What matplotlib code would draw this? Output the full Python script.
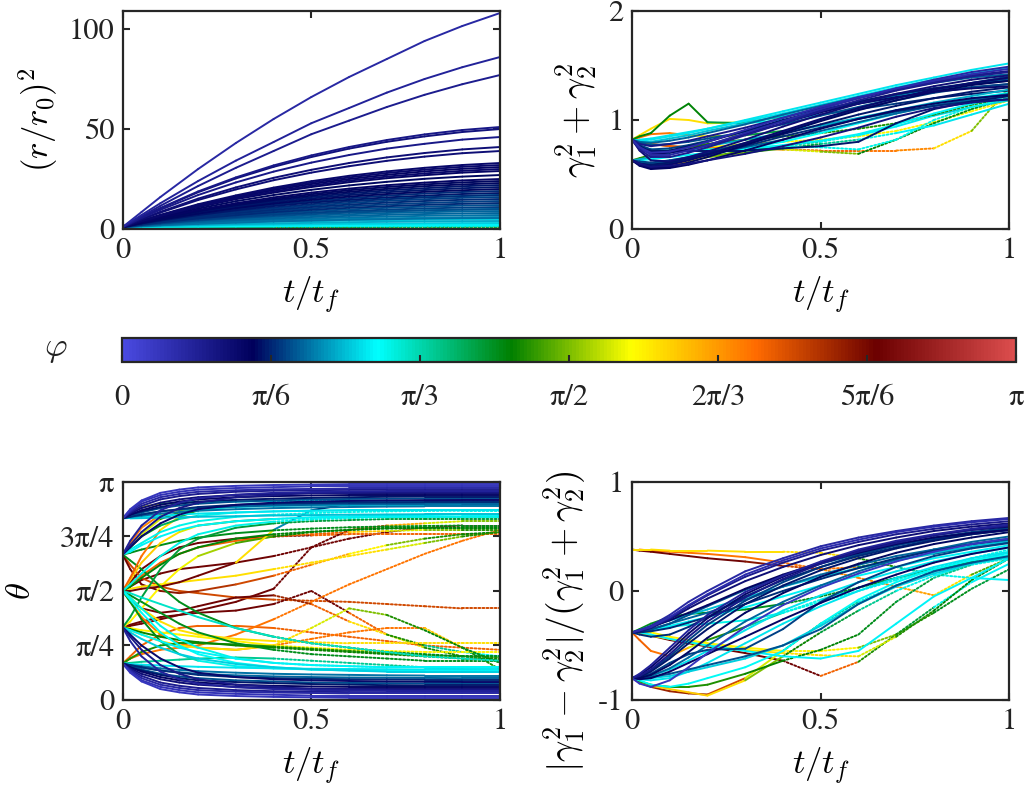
import numpy as np
import matplotlib
matplotlib.use("Agg")
import matplotlib.pyplot as plt
from matplotlib.colors import LinearSegmentedColormap, Normalize
from matplotlib.collections import LineCollection
from matplotlib.cm import ScalarMappable

plt.rcParams['font.family'] = ['STIXGeneral', 'DejaVu Serif']
plt.rcParams['mathtext.fontset'] = 'cm'

# ---------------- data (phi and theta in units of pi) ----------------
t_r = [0, 0.05, 0.1, 0.2, 0.3, 0.4, 0.5, 0.6, 0.7, 0.8, 0.9, 1.0]
t_s = [0, 0.02, 0.05, 0.1, 0.15, 0.2, 0.3, 0.4, 0.5, 0.6, 0.7, 0.8, 0.9, 1.0]

# (r/r0)^2
r2_vals = [
    [1, 8.5, 16, 30, 43, 55, 66, 76, 85, 94, 101.5, 108],
    [1, 7, 12.9, 24, 34.2, 43.5, 52.9, 60.5, 68.2, 75, 80.9, 86],
    [1, 6.3, 11.6, 21.5, 30.6, 39, 47.4, 54.2, 61, 67.1, 72.4, 77],
    [1, 6, 10.5, 18.8, 25.8, 31.8, 36.8, 41, 44.5, 47.3, 49.5, 51],
    [1, 5.9, 10.3, 18.4, 25.3, 31.1, 36, 40.2, 43.6, 46.3, 48.5, 50],
    [1, 5.5, 9.6, 17, 23.3, 28.7, 33.2, 37, 40.2, 42.6, 44.7, 46],
    [1, 5, 8.6, 15.2, 20.8, 25.6, 29.6, 33, 35.8, 38, 39.8, 41],
    [1, 4.8, 8.2, 14.5, 19.8, 24.4, 28.2, 31.4, 34.1, 36.2, 37.9, 39],
    [1, 4.2, 7.1, 12.4, 16.8, 20.7, 23.9, 26.6, 28.8, 30.6, 32, 33],
    [1, 4.1, 6.9, 12, 16.3, 20.1, 23.2, 25.8, 28, 29.7, 31.1, 32],
    [1, 4, 6.7, 11.7, 15.9, 19.5, 22.5, 25, 27.1, 28.8, 30.1, 31],
    [1, 3.9, 6.5, 11.3, 15.4, 18.8, 21.7, 24.2, 26.2, 27.8, 29.1, 30],
    [1, 3.8, 6.3, 10.9, 14.9, 18.2, 21, 23.4, 25.4, 26.9, 28.2, 29],
    [1, 3.6, 5.9, 10.2, 13.9, 17, 19.6, 21.8, 23.6, 25.1, 26.2, 27],
    [1, 3.4, 5.6, 9.5, 12.9, 15.8, 18.2, 20.2, 21.9, 23.2, 24.3, 25],
    [1, 3.3, 5.4, 9.2, 12.4, 15.1, 17.4, 19.4, 21, 22.3, 23.3, 24],
    [1, 3.2, 5.2, 8.8, 11.9, 14.5, 16.7, 18.6, 20.1, 21.4, 22.3, 23],
    [1, 3.1, 5, 8.5, 11.4, 13.9, 16, 17.8, 19.3, 20.4, 21.4, 22],
    [1, 3, 4.8, 8.1, 10.9, 13.3, 15.3, 17, 18.4, 19.5, 20.4, 21],
    [1, 2.9, 4.6, 7.7, 10.4, 12.7, 14.6, 16.2, 17.5, 18.6, 19.4, 20],
    [1, 2.8, 4.4, 7.4, 9.9, 12.1, 13.9, 15.4, 16.7, 17.7, 18.5, 19],
    [1, 2.7, 4.2, 7, 9.4, 11.5, 13.2, 14.6, 15.8, 16.7, 17.5, 18],
    [1, 2.6, 4, 6.7, 8.9, 10.8, 12.4, 13.8, 14.9, 15.8, 16.5, 17],
    [1, 2.5, 3.9, 6.3, 8.4, 10.2, 11.7, 13, 14.1, 14.9, 15.6, 16],
    [1, 2.4, 3.7, 6, 7.9, 9.6, 11, 12.2, 13.2, 14, 14.6, 15],
    [1, 2.3, 3.5, 5.6, 7.4, 9, 10.3, 11.4, 12.3, 13, 13.6, 14],
    [1, 2.2, 3.3, 5.3, 6.9, 8.4, 9.6, 10.6, 11.4, 12.1, 12.6, 13],
    [1, 2.1, 3.1, 4.9, 6.4, 7.8, 8.9, 9.8, 10.6, 11.2, 11.7, 12],
    [1, 2, 2.9, 4.6, 6, 7.2, 8.2, 9, 9.7, 10.3, 10.7, 11],
    [1, 1.9, 2.7, 4.2, 5.5, 6.5, 7.4, 8.2, 8.8, 9.3, 9.7, 10],
    [1, 1.8, 2.5, 3.8, 5, 5.9, 6.7, 7.4, 8, 8.4, 8.8, 9],
    [1, 1.7, 2.3, 3.5, 4.5, 5.3, 6, 6.6, 7.1, 7.5, 7.8, 8],
    [1, 1.6, 2.1, 3.1, 4, 4.7, 5.3, 5.8, 6.2, 6.6, 6.8, 7],
    [1, 1.5, 1.95, 2.8, 3.5, 4.1, 4.6, 5, 5.35, 5.6, 5.85, 6],
    [1, 1.45, 1.9, 2.6, 3.2, 3.8, 4.2, 4.6, 4.9, 5.2, 5.4, 5.5],
    [1, 1.3, 1.6, 2.1, 2.5, 2.8, 3.1, 3.4, 3.6, 3.8, 3.9, 4],
    [1, 1.2, 1.4, 1.7, 2, 2.2, 2.4, 2.6, 2.7, 2.85, 2.95, 3],
    [1, 1.1, 1.2, 1.35, 1.5, 1.6, 1.7, 1.8, 1.87, 1.92, 1.97, 2],
    [1, 3.5, 6, 9, 11, 12.5, 13.5, 14.5, 15.3, 16, 16.5, 17],
    [1, 2.5, 3.6, 5.2, 6.3, 7.2, 7.9, 8.5, 9.0, 9.4, 9.7, 10],
    [1, 1.5, 2.0, 2.7, 3.2, 3.6, 3.9, 4.2, 4.4, 4.6, 4.7, 4.8],
    [1, 1.2, 1.35, 1.6, 1.8, 1.95, 2.1, 2.2, 2.3, 2.4, 2.45, 2.5],
    [1, 1.08, 1.15, 1.25, 1.33, 1.4, 1.45, 1.5, 1.53, 1.56, 1.58, 1.6],
    [1, 1.05, 1.1, 1.15, 1.2, 1.22, 1.24, 1.26, 1.27, 1.28, 1.29, 1.3],
    [1, 0.95, 0.92, 0.88, 0.85, 0.83, 0.82, 0.81, 0.8, 0.8, 0.8, 0.8],
    [1, 0.9, 0.8, 0.7, 0.6, 0.55, 0.5, 0.47, 0.45, 0.43, 0.42, 0.4],
    [1, 0.8, 0.65, 0.5, 0.4, 0.35, 0.3, 0.28, 0.26, 0.25, 0.24, 0.23],
    [1, 0.7, 0.5, 0.35, 0.27, 0.22, 0.2, 0.18, 0.17, 0.16, 0.15, 0.15],
]
r2_phi = [0.07, 0.08, 0.09, 0.10, 0.11, 0.10, 0.12, 0.12, 0.13, 0.13, 0.14, 0.13,
          0.14, 0.15, 0.14, 0.15, 0.15, 0.16, 0.16, 0.15, 0.17, 0.16, 0.17, 0.18,
          0.17, 0.18, 0.17, 0.19, 0.18, 0.19, 0.20, 0.20, 0.21, 0.22, 0.21, 0.24,
          0.26, 0.28, 0.27, 0.23, 0.26, 0.29, 0.30, 0.33, 0.42, 0.55, 0.68, 0.80]

# gamma1^2 + gamma2^2
gsum_vals = [
    [0.82, 0.75, 0.68, 0.68, 0.72, 0.77, 0.88, 0.99, 1.10, 1.20, 1.29, 1.37, 1.44, 1.49],
    [0.82, 0.72, 0.63, 0.62, 0.66, 0.71, 0.82, 0.94, 1.05, 1.15, 1.24, 1.31, 1.37, 1.41],
    [0.63, 0.59, 0.56, 0.57, 0.61, 0.66, 0.77, 0.88, 0.99, 1.09, 1.18, 1.26, 1.32, 1.36],
    [0.63, 0.60, 0.58, 0.60, 0.64, 0.68, 0.76, 0.85, 0.93, 1.01, 1.08, 1.13, 1.17, 1.19],
    [0.82, 0.78, 0.76, 0.78, 0.81, 0.85, 0.93, 1.02, 1.11, 1.20, 1.28, 1.35, 1.41, 1.45],
    [0.82, 0.76, 0.71, 0.72, 0.76, 0.80, 0.90, 1.00, 1.09, 1.17, 1.24, 1.29, 1.33, 1.36],
    [0.63, 0.58, 0.55, 0.56, 0.59, 0.63, 0.72, 0.82, 0.92, 1.01, 1.09, 1.15, 1.20, 1.23],
    [0.82, 0.80, 0.79, 0.81, 0.84, 0.88, 0.96, 1.05, 1.13, 1.21, 1.28, 1.34, 1.39, 1.42],
    [0.63, 0.62, 0.61, 0.63, 0.66, 0.70, 0.79, 0.89, 1.00, 1.10, 1.18, 1.25, 1.30, 1.33],
    [0.82, 0.74, 0.69, 0.70, 0.73, 0.77, 0.87, 0.97, 1.07, 1.15, 1.21, 1.26, 1.29, 1.31],
    [0.82, 0.79, 0.77, 0.78, 0.80, 0.83, 0.89, 0.96, 1.04, 1.12, 1.20, 1.27, 1.34, 1.40],
    [0.63, 0.60, 0.57, 0.58, 0.60, 0.63, 0.69, 0.76, 0.84, 0.93, 1.03, 1.11, 1.16, 1.19],
    [0.82, 0.74, 0.72, 0.72, 0.72, 0.72, 0.72, 0.74, 0.76, 0.80, 0.97, 1.10, 1.17, 1.22],
    [0.82, 0.73, 0.66, 0.66, 0.70, 0.75, 0.86, 0.97, 1.08, 1.18, 1.27, 1.34, 1.40, 1.44],
    [0.63, 0.59, 0.57, 0.59, 0.63, 0.68, 0.79, 0.90, 1.01, 1.11, 1.20, 1.28, 1.34, 1.39],
    [0.82, 0.77, 0.73, 0.74, 0.77, 0.81, 0.90, 0.99, 1.08, 1.16, 1.23, 1.29, 1.34, 1.38],
    [0.63, 0.60, 0.59, 0.61, 0.65, 0.69, 0.78, 0.87, 0.96, 1.05, 1.13, 1.20, 1.26, 1.30],
    [0.82, 0.75, 0.70, 0.71, 0.75, 0.80, 0.91, 1.02, 1.12, 1.21, 1.29, 1.36, 1.42, 1.47],
    [0.63, 0.61, 0.60, 0.62, 0.65, 0.68, 0.75, 0.82, 0.90, 0.98, 1.06, 1.13, 1.19, 1.24],
    [0.82, 0.82, 0.83, 0.86, 0.89, 0.92, 0.99, 1.06, 1.14, 1.22, 1.30, 1.37, 1.43, 1.48],
    [0.82, 0.81, 0.82, 0.85, 0.88, 0.92, 1.00, 1.08, 1.16, 1.24, 1.32, 1.39, 1.46, 1.52],
    [0.63, 0.63, 0.64, 0.66, 0.68, 0.70, 0.73, 0.77, 0.81, 0.87, 0.96, 1.06, 1.15, 1.22],
    [0.82, 0.76, 0.73, 0.72, 0.72, 0.73, 0.75, 0.76, 0.75, 0.73, 0.82, 1.00, 1.12, 1.20],
    [0.82, 0.80, 0.80, 0.83, 0.86, 0.90, 0.97, 1.04, 1.10, 1.16, 1.22, 1.28, 1.33, 1.37],
    [0.63, 0.64, 0.66, 0.70, 0.73, 0.76, 0.82, 0.88, 0.95, 1.02, 1.09, 1.16, 1.22, 1.28],
    [0.63, 0.60, 0.60, 0.63, 0.66, 0.69, 0.74, 0.80, 0.88, 0.97, 1.06, 1.14, 1.20, 1.25],
    [0.82, 0.85, 0.88, 1.04, 1.15, 0.98, 0.97, 1.00, 1.05, 1.10, 1.15, 1.20, 1.24, 1.27],
    [0.82, 0.86, 0.92, 1.01, 1.00, 0.97, 0.98, 1.03, 1.09, 1.15, 1.21, 1.26, 1.30, 1.33],
    [0.82, 0.84, 0.87, 0.88, 0.86, 0.85, 0.86, 0.90, 0.95, 1.01, 1.07, 1.13, 1.18, 1.22],
    [0.82, 0.80, 0.78, 0.76, 0.75, 0.75, 0.74, 0.73, 0.72, 0.72, 0.72, 0.74, 0.90, 1.30],
    [0.82, 0.80, 0.78, 0.76, 0.75, 0.74, 0.74, 0.73, 0.71, 0.69, 0.82, 0.97, 1.10, 1.20],
    [0.63, 0.64, 0.66, 0.70, 0.73, 0.75, 0.78, 0.80, 0.82, 0.85, 0.90, 0.98, 1.08, 1.18],
    [0.63, 0.65, 0.68, 0.72, 0.75, 0.78, 0.82, 0.85, 0.88, 0.92, 0.97, 1.05, 1.14, 1.20],
    [0.63, 0.60, 0.57, 0.58, 0.62, 0.66, 0.72, 0.76, 0.80, 0.86, 0.94, 1.04, 1.12, 1.18],
    [0.63, 0.60, 0.58, 0.60, 0.63, 0.66, 0.70, 0.74, 0.78, 0.82, 0.88, 0.95, 1.05, 1.15],
]
gsum_phi = [0.07, 0.12, 0.15, 0.17, 0.10, 0.16, 0.14, 0.20, 0.18, 0.13, 0.19, 0.11, 0.16,
            0.09, 0.13, 0.18, 0.16, 0.06, 0.20,
            0.27, 0.27, 0.28, 0.30, 0.25, 0.24, 0.29,
            [0.43, 0.43, 0.43, 0.43, 0.43, 0.40, 0.30, 0.25, 0.20, 0.18, 0.17, 0.16, 0.16, 0.16],
            [0.60, 0.60, 0.60, 0.60, 0.60, 0.55, 0.35, 0.28, 0.22, 0.20, 0.19, 0.18, 0.18, 0.18],
            [0.70, 0.70, 0.70, 0.68, 0.60, 0.50, 0.40, 0.30, 0.26, 0.24, 0.22, 0.21, 0.20, 0.20],
            [0.75, 0.75, 0.75, 0.75, 0.75, 0.75, 0.75, 0.72, 0.72, 0.70, 0.68, 0.60, 0.50, 0.45],
            [0.72, 0.72, 0.72, 0.72, 0.70, 0.68, 0.62, 0.55, 0.50, 0.43, 0.43, 0.42, 0.42, 0.42],
            0.58, 0.45,
            [0.80, 0.78, 0.72, 0.62, 0.55, 0.48, 0.40, 0.33, 0.30, 0.28, 0.27, 0.26, 0.26, 0.26],
            [0.60, 0.60, 0.60, 0.58, 0.55, 0.50, 0.45, 0.40, 0.35, 0.30, 0.28, 0.27, 0.27, 0.27]]

# theta (units of pi)
theta_vals = [
    [0.167, 0.13, 0.09, 0.06, 0.045, 0.035, 0.028, 0.024, 0.02, 0.02, 0.02, 0.02, 0.02, 0.02],
    [0.167, 0.14, 0.11, 0.08, 0.065, 0.055, 0.045, 0.04, 0.038, 0.036, 0.035, 0.035, 0.035, 0.035],
    [0.167, 0.15, 0.13, 0.105, 0.09, 0.08, 0.07, 0.065, 0.062, 0.06, 0.06, 0.06, 0.06, 0.06],
    [0.167, 0.16, 0.15, 0.135, 0.125, 0.115, 0.105, 0.10, 0.097, 0.095, 0.094, 0.093, 0.093, 0.093],
    [0.167, 0.145, 0.12, 0.095, 0.08, 0.07, 0.06, 0.055, 0.052, 0.05, 0.05, 0.05, 0.05, 0.05],
    [0.167, 0.155, 0.14, 0.12, 0.108, 0.10, 0.09, 0.085, 0.08, 0.078, 0.077, 0.076, 0.076, 0.076],
    [0.167, 0.135, 0.10, 0.07, 0.055, 0.045, 0.038, 0.034, 0.032, 0.03, 0.03, 0.03, 0.03, 0.03],
    [0.167, 0.16, 0.155, 0.145, 0.138, 0.132, 0.125, 0.12, 0.117, 0.115, 0.113, 0.112, 0.112, 0.112],
    [0.167, 0.125, 0.085, 0.05, 0.035, 0.025, 0.018, 0.014, 0.012, 0.01, 0.01, 0.01, 0.01, 0.01],
    [0.333, 0.27, 0.20, 0.13, 0.095, 0.075, 0.058, 0.05, 0.046, 0.043, 0.042, 0.04, 0.04, 0.04],
    [0.167, 0.15, 0.135, 0.115, 0.10, 0.09, 0.082, 0.077, 0.073, 0.07, 0.068, 0.067, 0.067, 0.067],
    [0.333, 0.30, 0.25, 0.19, 0.15, 0.125, 0.105, 0.095, 0.09, 0.087, 0.085, 0.084, 0.083, 0.083],
    [0.167, 0.158, 0.148, 0.135, 0.127, 0.12, 0.113, 0.108, 0.105, 0.103, 0.102, 0.101, 0.10, 0.10],
    [0.833, 0.87, 0.91, 0.94, 0.955, 0.965, 0.972, 0.976, 0.98, 0.98, 0.98, 0.98, 0.98, 0.98],
    [0.833, 0.86, 0.89, 0.92, 0.935, 0.945, 0.955, 0.96, 0.962, 0.964, 0.965, 0.965, 0.965, 0.965],
    [0.833, 0.85, 0.87, 0.895, 0.91, 0.92, 0.93, 0.935, 0.938, 0.94, 0.94, 0.94, 0.94, 0.94],
    [0.833, 0.84, 0.85, 0.865, 0.875, 0.885, 0.895, 0.90, 0.903, 0.905, 0.906, 0.907, 0.907, 0.907],
    [0.833, 0.855, 0.88, 0.905, 0.92, 0.93, 0.94, 0.945, 0.948, 0.95, 0.95, 0.95, 0.95, 0.95],
    [0.833, 0.845, 0.86, 0.88, 0.892, 0.90, 0.91, 0.915, 0.92, 0.922, 0.923, 0.924, 0.924, 0.924],
    [0.833, 0.865, 0.90, 0.93, 0.945, 0.955, 0.962, 0.966, 0.968, 0.97, 0.97, 0.97, 0.97, 0.97],
    [0.833, 0.84, 0.845, 0.855, 0.862, 0.868, 0.875, 0.88, 0.883, 0.885, 0.887, 0.888, 0.888, 0.888],
    [0.667, 0.71, 0.77, 0.84, 0.88, 0.905, 0.93, 0.94, 0.95, 0.95, 0.955, 0.955, 0.955, 0.955],
    [0.333, 0.29, 0.23, 0.16, 0.12, 0.095, 0.07, 0.06, 0.05, 0.05, 0.045, 0.045, 0.045, 0.045],
    [0.833, 0.875, 0.915, 0.95, 0.965, 0.975, 0.982, 0.986, 0.988, 0.99, 0.99, 0.99, 0.99, 0.99],
    [0.667, 0.73, 0.80, 0.87, 0.905, 0.925, 0.942, 0.95, 0.954, 0.957, 0.958, 0.96, 0.96, 0.96],
    [0.833, 0.85, 0.865, 0.885, 0.90, 0.91, 0.918, 0.923, 0.927, 0.93, 0.932, 0.933, 0.933, 0.933],
    [0.667, 0.70, 0.75, 0.81, 0.85, 0.875, 0.895, 0.905, 0.91, 0.913, 0.915, 0.916, 0.917, 0.917],
    [0.833, 0.842, 0.852, 0.865, 0.873, 0.88, 0.887, 0.892, 0.895, 0.897, 0.898, 0.899, 0.90, 0.90],
    [0.833, 0.835, 0.84, 0.845, 0.85, 0.855, 0.86, 0.865, 0.868, 0.87, 0.87, 0.87, 0.87, 0.87],
    [0.667, 0.68, 0.71, 0.75, 0.78, 0.80, 0.82, 0.83, 0.838, 0.843, 0.846, 0.848, 0.85, 0.85],
    [0.5, 0.53, 0.58, 0.66, 0.72, 0.76, 0.80, 0.818, 0.828, 0.834, 0.838, 0.84, 0.84, 0.84],
    [0.667, 0.69, 0.72, 0.77, 0.80, 0.82, 0.84, 0.85, 0.857, 0.862, 0.865, 0.867, 0.868, 0.868],
    [0.833, 0.833, 0.834, 0.836, 0.838, 0.84, 0.843, 0.846, 0.848, 0.85, 0.851, 0.852, 0.852, 0.852],
    [0.167, 0.165, 0.162, 0.158, 0.155, 0.152, 0.148, 0.145, 0.143, 0.142, 0.141, 0.14, 0.14, 0.14],
    [0.333, 0.32, 0.30, 0.27, 0.24, 0.22, 0.19, 0.17, 0.16, 0.155, 0.15, 0.15, 0.15, 0.15],
    [0.5, 0.47, 0.42, 0.34, 0.28, 0.24, 0.19, 0.17, 0.16, 0.155, 0.15, 0.15, 0.15, 0.15],
    [0.333, 0.31, 0.28, 0.24, 0.21, 0.19, 0.165, 0.15, 0.14, 0.135, 0.13, 0.13, 0.13, 0.13],
    [0.5, 0.46, 0.40, 0.31, 0.25, 0.21, 0.17, 0.15, 0.14, 0.135, 0.132, 0.13, 0.13, 0.13],
    [0.667, 0.675, 0.69, 0.71, 0.73, 0.745, 0.765, 0.778, 0.786, 0.792, 0.796, 0.798, 0.80, 0.80],
    [0.5, 0.52, 0.56, 0.62, 0.67, 0.70, 0.74, 0.76, 0.772, 0.78, 0.786, 0.79, 0.79, 0.79],
    [0.333, 0.38, 0.47, 0.60, 0.69, 0.74, 0.79, 0.81, 0.82, 0.825, 0.83, 0.83, 0.83, 0.83],
    [0.5, 0.48, 0.45, 0.40, 0.35, 0.31, 0.26, 0.23, 0.21, 0.20, 0.19, 0.18, 0.18, 0.18],
    [0.333, 0.325, 0.31, 0.29, 0.275, 0.265, 0.25, 0.24, 0.23, 0.22, 0.21, 0.20, 0.19, 0.19],
    [0.167, 0.19, 0.22, 0.25, 0.26, 0.26, 0.255, 0.245, 0.235, 0.225, 0.215, 0.205, 0.20, 0.195],
    [0.5, 0.55, 0.63, 0.72, 0.77, 0.80, 0.82, 0.83, 0.835, 0.84, 0.84, 0.84, 0.84, 0.84],
    [0.667, 0.72, 0.79, 0.85, 0.87, 0.88, 0.89, 0.895, 0.90, 0.90, 0.90, 0.90, 0.90, 0.90],
    [0.5, 0.53, 0.57, 0.63, 0.67, 0.70, 0.73, 0.75, 0.76, 0.77, 0.775, 0.78, 0.78, 0.78],
    [0.333, 0.34, 0.35, 0.37, 0.39, 0.41, 0.45, 0.51, 0.70, 0.78, 0.80, 0.81, 0.82, 0.82],
    [0.5, 0.46, 0.42, 0.40, 0.41, 0.43, 0.47, 0.48, 0.44, 0.36, 0.30, 0.25, 0.22, 0.20],
    [0.333, 0.345, 0.36, 0.38, 0.39, 0.40, 0.41, 0.44, 0.50, 0.40, 0.30, 0.24, 0.20, 0.18],
    [0.333, 0.32, 0.30, 0.27, 0.25, 0.24, 0.23, 0.25, 0.33, 0.42, 0.39, 0.32, 0.24, 0.17],
    [0.5, 0.45, 0.38, 0.30, 0.26, 0.24, 0.23, 0.25, 0.28, 0.31, 0.33, 0.33, 0.24, 0.14],
    [0.167, 0.19, 0.21, 0.23, 0.24, 0.25, 0.30, 0.37, 0.45, 0.53, 0.60, 0.67, 0.73, 0.78],
    [0.5, 0.51, 0.52, 0.53, 0.54, 0.55, 0.57, 0.60, 0.63, 0.66, 0.69, 0.72, 0.75, 0.77],
    [0.667, 0.62, 0.56, 0.52, 0.50, 0.49, 0.47, 0.46, 0.455, 0.45, 0.44, 0.43, 0.42, 0.42],
    [0.333, 0.33, 0.32, 0.31, 0.30, 0.29, 0.27, 0.25, 0.24, 0.23, 0.225, 0.22, 0.22, 0.22],
    [0.167, 0.20, 0.25, 0.30, 0.33, 0.34, 0.34, 0.33, 0.31, 0.29, 0.27, 0.25, 0.24, 0.23],
    [0.667, 0.64, 0.60, 0.52, 0.45, 0.40, 0.33, 0.29, 0.26, 0.24, 0.22, 0.21, 0.20, 0.20],
    [0.5, 0.54, 0.60, 0.66, 0.70, 0.72, 0.74, 0.75, 0.755, 0.76, 0.76, 0.76, 0.76, 0.76],
    [0.167, 0.17, 0.175, 0.18, 0.185, 0.19, 0.195, 0.19, 0.18, 0.17, 0.16, 0.15, 0.14, 0.13],
    [0.5, 0.49, 0.47, 0.44, 0.41, 0.38, 0.33, 0.29, 0.26, 0.24, 0.22, 0.20, 0.19, 0.18],
    [0.5, 0.56, 0.66, 0.78, 0.84, 0.87, 0.89, 0.90, 0.905, 0.91, 0.91, 0.91, 0.91, 0.91],
    [0.667, 0.70, 0.76, 0.83, 0.86, 0.875, 0.885, 0.89, 0.892, 0.894, 0.895, 0.895, 0.895, 0.895],
    [0.667, 0.60, 0.53, 0.50, 0.49, 0.50, 0.53, 0.57, 0.62, 0.67, 0.71, 0.74, 0.76, 0.77],
    [0.5, 0.45, 0.37, 0.27, 0.21, 0.18, 0.155, 0.145, 0.14, 0.138, 0.136, 0.135, 0.135, 0.135],
    [0.333, 0.36, 0.42, 0.52, 0.60, 0.66, 0.72, 0.75, 0.77, 0.78, 0.79, 0.79, 0.79, 0.79],
    [0.5, 0.47, 0.42, 0.36, 0.32, 0.30, 0.28, 0.27, 0.265, 0.26, 0.26, 0.26, 0.26, 0.26],
    [0.5, 0.52, 0.55, 0.58, 0.60, 0.61, 0.63, 0.66, 0.70, 0.74, 0.77, 0.79, 0.80, 0.80],
    [0.667, 0.70, 0.75, 0.80, 0.83, 0.845, 0.86, 0.865, 0.868, 0.87, 0.87, 0.87, 0.87, 0.87],
    [0.5, 0.50, 0.51, 0.52, 0.54, 0.57, 0.63, 0.78, 0.87, 0.90, 0.91, 0.915, 0.915, 0.915],
    [0.833, 0.86, 0.885, 0.90, 0.905, 0.908, 0.91, 0.912, 0.913, 0.914, 0.914, 0.914, 0.914, 0.914],
]
theta_phi = [0.05, 0.09, 0.14, 0.17, 0.12, 0.19, 0.07, 0.21, 0.04, 0.08, 0.16, 0.13, 0.20,
             0.05, 0.09, 0.14, 0.17, 0.12, 0.19, 0.07, 0.21, 0.10, 0.10, 0.04, 0.08, 0.16,
             0.13, 0.20,
             0.27, 0.28, 0.30, 0.30, 0.25, 0.27, 0.28, 0.30, 0.26, 0.29,
             0.42, 0.43, 0.40, 0.42, 0.44, 0.45,
             [0.62, 0.62, 0.62, 0.60, 0.55, 0.48, 0.38, 0.30, 0.28, 0.28, 0.28, 0.28, 0.28, 0.28],
             [0.70, 0.70, 0.68, 0.60, 0.50, 0.40, 0.30, 0.25, 0.22, 0.20, 0.20, 0.20, 0.20, 0.20],
             [0.72, 0.72, 0.72, 0.72, 0.72, 0.72, 0.72, 0.72, 0.72, 0.62, 0.55, 0.50, 0.45, 0.45],
             [0.85, 0.85, 0.85, 0.85, 0.85, 0.85, 0.85, 0.85, 0.85, 0.75, 0.65, 0.55, 0.50, 0.50],
             [0.85, 0.85, 0.85, 0.85, 0.85, 0.85, 0.85, 0.80, 0.72, 0.60, 0.45, 0.35, 0.30, 0.30],
             [0.85, 0.85, 0.85, 0.85, 0.85, 0.85, 0.85, 0.85, 0.85, 0.72, 0.55, 0.45, 0.40, 0.40],
             [0.60, 0.60, 0.60, 0.60, 0.60, 0.60, 0.60, 0.60, 0.55, 0.50, 0.45, 0.43, 0.42, 0.42],
             [0.70, 0.70, 0.70, 0.70, 0.70, 0.70, 0.70, 0.70, 0.70, 0.70, 0.70, 0.62, 0.45, 0.32],
             0.70,
             [0.60, 0.60, 0.60, 0.60, 0.60, 0.60, 0.60, 0.60, 0.60, 0.60, 0.55, 0.50, 0.45, 0.45],
             0.75, 0.58, 0.72, 0.42,
             [0.85, 0.85, 0.85, 0.85, 0.85, 0.85, 0.85, 0.85, 0.72, 0.72, 0.72, 0.72, 0.72, 0.72],
             0.35, 0.32,
             [0.72, 0.72, 0.70, 0.60, 0.45, 0.35, 0.28, 0.25, 0.22, 0.22, 0.22, 0.22, 0.22, 0.22],
             [0.60, 0.60, 0.55, 0.45, 0.35, 0.30, 0.28, 0.26, 0.26, 0.26, 0.26, 0.26, 0.26, 0.26],
             [0.85, 0.85, 0.85, 0.82, 0.80, 0.78, 0.75, 0.72, 0.65, 0.58, 0.50, 0.45, 0.43, 0.43],
             [0.42, 0.42, 0.42, 0.38, 0.33, 0.30, 0.28, 0.28, 0.28, 0.28, 0.28, 0.28, 0.28, 0.28],
             [0.58, 0.58, 0.58, 0.58, 0.56, 0.52, 0.47, 0.44, 0.43, 0.43, 0.43, 0.43, 0.43, 0.43],
             0.60, 0.85,
             [0.43, 0.43, 0.42, 0.38, 0.33, 0.30, 0.28, 0.28, 0.28, 0.28, 0.28, 0.28, 0.28, 0.28],
             [0.85, 0.85, 0.85, 0.85, 0.85, 0.85, 0.60, 0.22, 0.16, 0.15, 0.15, 0.15, 0.15, 0.15],
             [0.72, 0.70, 0.55, 0.40, 0.35, 0.32, 0.30, 0.30, 0.30, 0.30, 0.30, 0.30, 0.30, 0.30]]

# |g1^2 - g2^2| / (g1^2 + g2^2)
gdiff_vals = [
    [-0.38, -0.36, -0.32, -0.22, -0.10, 0.0, 0.18, 0.30, 0.41, 0.49, 0.55, 0.60, 0.64, 0.67],
    [-0.38, -0.37, -0.34, -0.26, -0.16, -0.07, 0.09, 0.22, 0.33, 0.42, 0.49, 0.55, 0.59, 0.62],
    [-0.8, -0.78, -0.72, -0.58, -0.42, -0.28, -0.06, 0.11, 0.25, 0.36, 0.44, 0.51, 0.56, 0.60],
    [-0.8, -0.80, -0.77, -0.68, -0.56, -0.43, -0.20, -0.02, 0.13, 0.25, 0.35, 0.43, 0.49, 0.54],
    [-0.8, -0.85, -0.88, -0.82, -0.70, -0.57, -0.33, -0.13, 0.03, 0.16, 0.27, 0.36, 0.43, 0.48],
    [-0.38, -0.40, -0.42, -0.40, -0.33, -0.24, -0.05, 0.10, 0.22, 0.32, 0.40, 0.47, 0.52, 0.56],
    [-0.8, -0.79, -0.76, -0.66, -0.58, -0.54, -0.53, -0.35, -0.10, 0.08, 0.22, 0.32, 0.39, 0.44],
    [-0.38, -0.36, -0.33, -0.27, -0.20, -0.13, 0.02, 0.15, 0.26, 0.35, 0.43, 0.49, 0.53, 0.56],
    [-0.8, -0.76, -0.68, -0.52, -0.36, -0.22, -0.01, 0.14, 0.27, 0.38, 0.46, 0.52, 0.57, 0.61],
    [-0.38, -0.37, -0.35, -0.30, -0.25, -0.20, -0.08, 0.04, 0.15, 0.24, 0.32, 0.38, 0.43, 0.47],
    [-0.8, -0.80, -0.79, -0.76, -0.72, -0.68, -0.60, -0.50, -0.35, -0.12, 0.05, 0.18, 0.26, 0.32],
    [-0.8, -0.77, -0.70, -0.55, -0.39, -0.25, -0.03, 0.13, 0.26, 0.37, 0.45, 0.51, 0.56, 0.59],
    [-0.38, -0.365, -0.335, -0.25, -0.14, -0.04, 0.13, 0.26, 0.37, 0.45, 0.52, 0.57, 0.61, 0.64],
    [-0.8, -0.79, -0.74, -0.62, -0.48, -0.35, -0.12, 0.05, 0.19, 0.30, 0.39, 0.46, 0.52, 0.56],
    [-0.38, -0.375, -0.355, -0.30, -0.22, -0.14, 0.01, 0.14, 0.25, 0.34, 0.42, 0.48, 0.53, 0.57],
    [-0.8, -0.80, -0.78, -0.71, -0.61, -0.50, -0.28, -0.10, 0.05, 0.18, 0.29, 0.38, 0.45, 0.50],
    [-0.38, -0.38, -0.37, -0.34, -0.29, -0.24, -0.12, 0.0, 0.11, 0.21, 0.30, 0.37, 0.43, 0.48],
    [-0.8, -0.81, -0.80, -0.74, -0.66, -0.58, -0.42, -0.26, -0.11, 0.03, 0.15, 0.26, 0.34, 0.40],
    [-0.38, -0.36, -0.33, -0.24, -0.13, -0.03, 0.15, 0.28, 0.39, 0.47, 0.54, 0.59, 0.63, 0.66],
    [-0.8, -0.78, -0.73, -0.60, -0.45, -0.31, -0.09, 0.08, 0.22, 0.33, 0.42, 0.49, 0.54, 0.58],
    [-0.8, -0.80, -0.78, -0.72, -0.64, -0.55, -0.36, -0.18, -0.04, 0.08, 0.18, 0.27, 0.34, 0.40],
    [-0.38, -0.37, -0.36, -0.33, -0.31, -0.30, -0.27, -0.20, -0.10, 0.0, 0.10, 0.20, 0.30, 0.38],
    [-0.8, -0.82, -0.86, -0.88, -0.85, -0.80, -0.70, -0.55, -0.30, -0.08, 0.08, 0.20, 0.28, 0.33],
    [-0.38, -0.38, -0.40, -0.44, -0.47, -0.50, -0.55, -0.60, -0.62, -0.55, -0.30, -0.05, 0.12, 0.30],
    [-0.38, -0.36, -0.32, -0.27, -0.22, -0.17, -0.06, 0.04, 0.13, 0.21, 0.28, 0.35, 0.41, 0.46],
    [-0.8, -0.81, -0.82, -0.80, -0.74, -0.66, -0.48, -0.30, -0.14, 0.0, 0.12, 0.22, 0.30, 0.36],
    [-0.38, -0.37, -0.36, -0.32, -0.28, -0.24, -0.15, -0.05, 0.05, 0.14, 0.22, 0.30, 0.36, 0.42],
    [-0.8, -0.80, -0.80, -0.78, -0.74, -0.70, -0.62, -0.50, -0.32, -0.12, 0.04, 0.16, 0.25, 0.31],
    [-0.38, -0.35, -0.30, -0.24, -0.21, -0.20, -0.17, -0.12, -0.05, 0.03, 0.12, 0.20, 0.27, 0.32],
    [-0.38, -0.39, -0.41, -0.44, -0.47, -0.50, -0.54, -0.57, -0.59, -0.60, -0.42, -0.18, 0.10, 0.30],
    [-0.8, -0.83, -0.86, -0.88, -0.88, -0.86, -0.76, -0.64, -0.54, -0.40, -0.10, 0.12, 0.24, 0.30],
    [0.38, 0.38, 0.37, 0.36, 0.35, 0.34, 0.31, 0.26, 0.20, 0.12, 0.04, -0.04, 0.15, 0.30],
    [0.38, 0.38, 0.38, 0.37, 0.37, 0.37, 0.36, 0.36, 0.35, 0.30, 0.22, 0.15, 0.12, 0.10],
    [0.38, 0.37, 0.36, 0.34, 0.32, 0.30, 0.27, 0.23, 0.20, 0.22, 0.28, 0.34, 0.40, 0.45],
    [-0.38, -0.45, -0.55, -0.60, -0.52, -0.45, -0.33, -0.20, -0.08, 0.03, 0.12, 0.20, 0.26, 0.31],
    [-0.38, -0.39, -0.41, -0.45, -0.48, -0.51, -0.57, -0.64, -0.78, -0.65, -0.40, -0.15, 0.08, 0.25],
    [-0.8, -0.84, -0.88, -0.92, -0.94, -0.95, -0.80, -0.55, -0.30, -0.10, 0.05, 0.18, 0.28, 0.35],
    [-0.8, -0.83, -0.87, -0.90, -0.93, -0.96, -0.82, -0.60, -0.38, -0.18, 0.0, 0.14, 0.25, 0.33],
    [-0.38, -0.37, -0.38, -0.42, -0.45, -0.48, -0.52, -0.55, -0.55, -0.52, -0.40, -0.20, 0.02, 0.20],
]
gdiff_phi = [0.07, 0.12, 0.10, 0.15, 0.04, 0.17, 0.18, 0.14, 0.08, 0.20, 0.19,
             0.13, 0.09, 0.16, 0.19, 0.20, 0.17, 0.14, 0.06, 0.18,
             0.27, 0.30, 0.29, 0.28, 0.25, 0.27, 0.28, 0.26, 0.42,
             [0.60, 0.60, 0.60, 0.60, 0.60, 0.60, 0.60, 0.60, 0.60, 0.55, 0.45, 0.43, 0.42, 0.42],
             [0.45, 0.45, 0.45, 0.45, 0.45, 0.45, 0.44, 0.43, 0.43, 0.42, 0.40, 0.35, 0.30, 0.30],
             [0.70, 0.70, 0.70, 0.70, 0.70, 0.70, 0.70, 0.70, 0.68, 0.68, 0.66, 0.60, 0.48, 0.45],
             [0.60, 0.60, 0.60, 0.60, 0.60, 0.60, 0.60, 0.60, 0.60, 0.45, 0.35, 0.30, 0.28, 0.28],
             [0.85, 0.85, 0.85, 0.85, 0.85, 0.85, 0.82, 0.75, 0.70, 0.40, 0.25, 0.20, 0.18, 0.18],
             [0.72, 0.72, 0.70, 0.65, 0.55, 0.45, 0.35, 0.30, 0.27, 0.25, 0.24, 0.23, 0.23, 0.23],
             [0.85, 0.85, 0.85, 0.85, 0.85, 0.85, 0.85, 0.85, 0.72, 0.45, 0.40, 0.30, 0.28, 0.28],
             [0.80, 0.80, 0.80, 0.80, 0.80, 0.75, 0.55, 0.45, 0.35, 0.30, 0.28, 0.27, 0.27, 0.27],
             [0.62, 0.62, 0.62, 0.62, 0.62, 0.60, 0.50, 0.44, 0.40, 0.35, 0.30, 0.28, 0.28, 0.28],
             [0.58, 0.58, 0.58, 0.58, 0.58, 0.58, 0.58, 0.58, 0.58, 0.50, 0.45, 0.42, 0.40, 0.40]]

cbar_ticks = [0, 1/6, 1/3, 1/2, 2/3, 5/6, 1]
cbar_labels = ['0', 'π/6', 'π/3', 'π/2', '2π/3', '5π/6', 'π']
theta_ticks = [0, 0.25, 0.5, 0.75, 1]
theta_labels = ['0', 'π/4', 'π/2', '3π/4', 'π']

# ---------------- colormap ----------------
cmap = LinearSegmentedColormap.from_list('phi', [
    (0.0, (0.29, 0.29, 0.88)),
    (0.145, (0.0, 0.0, 0.36)),
    (0.285, (0.0, 1.0, 1.0)),
    (0.435, (0.0, 0.5, 0.0)),
    (0.57, (1.0, 1.0, 0.0)),
    (0.71, (1.0, 0.42, 0.0)),
    (0.845, (0.42, 0.0, 0.0)),
    (1.0, (0.86, 0.30, 0.30)),
])
norm = Normalize(0, 1)

FS = 22      # tick labels
FL = 25      # axis labels
EDGE = '#262626'
DOTS = (0, (1.0, 1.1))


def draw_curves(ax, t, vals, phis):
    t = np.asarray(t, dtype=float)
    order = sorted(range(len(vals)), key=lambda i: -float(np.mean(phis[i])))
    for i in order:
        y = np.asarray(vals[i], dtype=float)
        ph = np.broadcast_to(np.asarray(phis[i], dtype=float), y.shape)
        pts = np.column_stack([t, y])
        segs = np.stack([pts[:-1], pts[1:]], axis=1)
        cols = [cmap(norm(p)) for p in ph[:-1]]
        styles = [DOTS if (t[k] >= 0.4 and ph[k] >= 0.3) else 'solid' for k in range(len(segs))]
        lc = LineCollection(segs, colors=cols, linestyles=styles, linewidths=1.4,
                            capstyle='round')
        ax.add_collection(lc)


def style_axes(ax):
    ax.set_xlim(0, 1)
    ax.set_xticks([0, 0.5, 1])
    ax.set_xticklabels(['0', '0.5', '1'])
    ax.set_xlabel(r'$t/t_f$', fontsize=FL, labelpad=7)
    ax.tick_params(direction='in', length=5, width=1.5, top=True, right=True,
                   labelsize=FS, colors=EDGE, labelcolor='#222222', pad=6)
    for s in ax.spines.values():
        s.set_linewidth(1.6)
        s.set_color(EDGE)


fig = plt.figure(figsize=(10.24, 7.87), dpi=100)
W, H = 0.3685, 0.277
ax1 = fig.add_axes([0.1198, 0.709, W, H])
ax2 = fig.add_axes([0.6172, 0.709, W, H])
ax3 = fig.add_axes([0.1198, 0.1106, W, H])
ax4 = fig.add_axes([0.6172, 0.1106, W, H])

draw_curves(ax1, t_r, r2_vals, r2_phi)
style_axes(ax1)
ax1.set_ylim(0, 109)
ax1.set_yticks([0, 50, 100])
ax1.set_ylabel(r'$(r/r_0)^2$', fontsize=FL)
ax1.yaxis.set_label_coords(-0.165, 0.5)

draw_curves(ax2, t_s, gsum_vals, gsum_phi)
style_axes(ax2)
ax2.set_ylim(0, 2)
ax2.set_yticks([0, 1, 2])
ax2.set_ylabel(r'$\gamma_1^2+\gamma_2^2$', fontsize=FL + 2)
ax2.yaxis.set_label_coords(-0.085, 0.5)

draw_curves(ax3, t_s, theta_vals, theta_phi)
style_axes(ax3)
ax3.set_ylim(0, 1)
ax3.set_yticks(theta_ticks)
ax3.set_yticklabels(theta_labels)
ax3.set_ylabel(r'$\theta$', fontsize=FL)
ax3.yaxis.set_label_coords(-0.225, 0.5)

draw_curves(ax4, t_s, gdiff_vals, gdiff_phi)
style_axes(ax4)
ax4.set_ylim(-1, 1)
ax4.set_yticks([-1, 0, 1])
ax4.set_yticklabels(['-1', '0', '1'])
ax4.set_ylabel(r'$|\gamma_1^2-\gamma_2^2|/(\gamma_1^2+\gamma_2^2)$', fontsize=FL + 2)
ax4.yaxis.set_label_coords(-0.117, 0.36)

# colorbar
cax = fig.add_axes([0.1191, 0.540, 0.873, 0.0305])
cb = fig.colorbar(ScalarMappable(norm=norm, cmap=cmap), cax=cax, orientation='horizontal')
cb.set_ticks(cbar_ticks)
cb.set_ticklabels(cbar_labels)
cb.ax.tick_params(direction='in', length=5, width=1.5, labelsize=FS, colors=EDGE,
                  labelcolor='#222222', pad=16)
cb.outline.set_linewidth(1.6)
cb.outline.set_edgecolor(EDGE)
fig.text(0.054, 0.556, r'$\varphi$', fontsize=FL, ha='center', va='center', color='#222222')

fig.savefig('out.png', dpi=100)
